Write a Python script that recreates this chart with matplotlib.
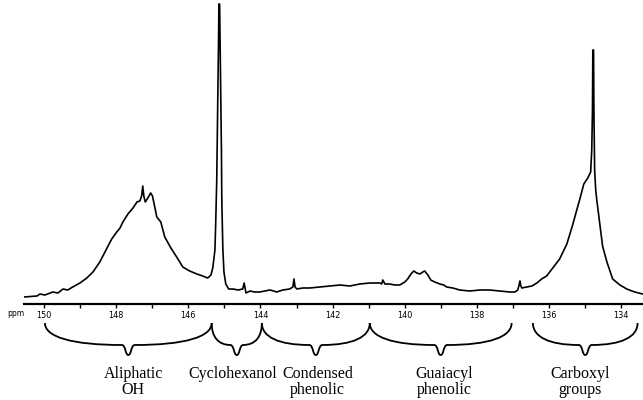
import numpy as np
import matplotlib
matplotlib.use("Agg")
import matplotlib.pyplot as plt
from matplotlib.path import Path
from matplotlib.patches import PathPatch

# 31P spectrum, chemical shift (ppm) and signal height
shift = [150.55, 150.19, 150.11, 149.97, 149.75, 149.61, 149.47, 149.34, 149.20, 149.00,
         148.81, 148.64, 148.45, 148.25, 148.12, 147.98, 147.89, 147.81, 147.67, 147.53,
         147.42, 147.34, 147.29, 147.26, 147.23, 147.19, 147.12, 147.04, 146.99, 146.95,
         146.87, 146.76, 146.65, 146.48, 146.32, 146.15, 145.96, 145.76, 145.60, 145.46,
         145.37, 145.32, 145.26, 145.24, 145.21, 145.18, 145.16, 145.15, 145.13, 145.11,
         145.08, 145.07, 145.04, 145.01, 144.96, 144.88, 144.76, 144.62, 144.49, 144.45,
         144.40, 144.29, 144.16, 144.02, 143.88, 143.74, 143.63, 143.55, 143.38, 143.19,
         143.10, 143.07, 143.04, 142.99, 142.83, 142.63, 142.35, 142.08, 141.80, 141.52,
         141.25, 140.97, 140.69, 140.64, 140.61, 140.55, 140.42, 140.28, 140.14, 140.00,
         139.92, 139.83, 139.75, 139.67, 139.58, 139.50, 139.45, 139.36, 139.28, 139.17,
         139.03, 138.92, 138.84, 138.67, 138.48, 138.20, 137.92, 137.65, 137.37, 137.09,
         136.95, 136.87, 136.84, 136.81, 136.79, 136.76, 136.62, 136.48, 136.34, 136.21,
         136.07, 135.90, 135.71, 135.51, 135.35, 135.15, 135.04, 134.93, 134.85, 134.82,
         134.80, 134.79, 134.77, 134.76, 134.74, 134.71, 134.68, 134.60, 134.52, 134.40,
         134.24, 134.04, 133.85, 133.63, 133.41]
signal = [7, 8, 10, 9, 12, 11, 15, 14, 17, 21,
          26, 32, 42, 56, 65, 72, 76, 82, 90, 96,
          102, 103, 108, 118, 108, 102, 106, 111, 108, 101,
          87, 82, 67, 56, 47, 37, 33, 30, 28, 26,
          29, 36, 54, 79, 124, 204, 264, 300, 300, 244,
          154, 104, 54, 32, 20, 15, 15, 14, 15, 21,
          11, 13, 12, 12, 13, 14, 13, 12, 14, 15,
          17, 25, 17, 15, 16, 16, 17, 18, 19, 18,
          20, 21, 21, 20, 24, 20, 20, 19, 19, 22,
          25, 30, 33, 31, 30, 32, 33, 29, 24, 22,
          20, 19, 17, 16, 14, 13, 14, 14, 13, 12,
          12, 14, 18, 23, 19, 16, 17, 18, 21, 25,
          28, 36, 45, 60, 79, 105, 120, 126, 132, 154,
          194, 254, 254, 194, 134, 114, 104, 81, 58, 42,
          25, 19, 15, 12, 10]

# signal regions under the axis: (label, from ppm, to ppm)
groups = ["Aliphatic\nOH", "Cyclohexanol", "Condensed\nphenolic",
          "Guaiacyl\nphenolic", "Carboxyl\ngroups"]
group_start = [149.97, 145.35, 143.96, 140.97, 136.45]
group_end = [145.35, 143.96, 140.97, 137.04, 133.55]

major_ticks = [150, 148, 146, 144, 142, 140, 138, 136, 134]
minor_ticks = [149, 147, 145, 143, 141, 139, 137, 135]

# nudge labels sideways (ppm) so neighbours don't touch
label_nudge = [-0.14, 0.11, -0.05, -0.11, 0.14]


def brace(x0, x1, top=-19, mid=-41, low=-51, w=0.17):
    xt = (x0 + x1) / 2
    s = np.sign(x1 - x0)
    a = xt - s * w
    b = xt + s * w
    verts = [(x0, top),
             (x0, mid + 8), (x0 + 0.35 * (a - x0), mid), (a, mid),
             (a + 0.6 * (xt - a), mid - 1), (a + 0.5 * (xt - a), low), (xt, low),
             (xt + 0.5 * (b - xt), low), (xt + 0.4 * (b - xt), mid - 1), (b, mid),
             (x1 + 0.35 * (b - x1), mid), (x1, mid + 8), (x1, top)]
    codes = [Path.MOVETO] + [Path.CURVE4] * 12
    return Path(verts, codes)


fig = plt.figure(figsize=(6.43, 4.0), dpi=100)
ax = fig.add_axes([24 / 643, 1 - 304 / 400, 1 - 24 / 643, 304 / 400])

ax.plot(shift, signal, color="black", lw=1.2)
ax.set_xlim(150.55, 133.4)
ax.set_ylim(0, 304)

for sp in ["left", "right", "top"]:
    ax.spines[sp].set_visible(False)
ax.spines["bottom"].set_linewidth(1.6)
ax.set_yticks([])
ax.set_xticks(major_ticks)
ax.set_xticks(minor_ticks, minor=True)
ax.set_xticklabels([str(t) for t in major_ticks], fontsize=6.5,
                   fontstretch="condensed")
ax.tick_params(axis="x", which="both", direction="out", length=3, width=1, pad=2)

for lab, x0, x1, dx in zip(groups, group_start, group_end, label_nudge):
    ax.add_patch(PathPatch(brace(x0, x1), facecolor="none", edgecolor="black",
                           lw=1.3, clip_on=False))
    ax.text((x0 + x1) / 2 + dx, -62, lab, ha="center", va="top", fontsize=11.5,
            family="Liberation Serif", linespacing=1.0, clip_on=False)

fig.text(16 / 643, 1 - 314 / 400, "ppm", ha="center", va="center", fontsize=5.5)

fig.savefig("out.png", dpi=100)
